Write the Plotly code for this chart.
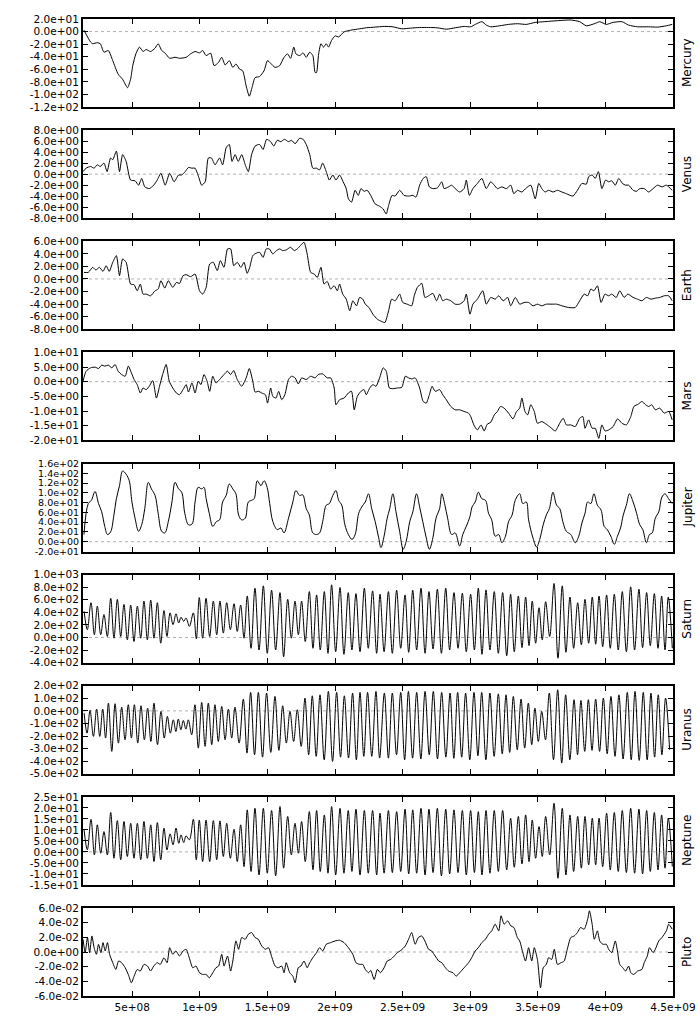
import plotly.graph_objects as go
from plotly.subplots import make_subplots

# ---------------- data (time in units of 1e9) ----------------
planets = ["Mercury", "Venus", "Earth", "Mars", "Jupiter", "Saturn", "Uranus", "Neptune", "Pluto"]

mercury_t = [0.143,0.192,0.208,0.241,0.264,0.291,0.323,0.356,0.396,0.429,0.465,0.488,0.504,0.527,0.554,0.580,0.603,0.636,0.669,0.692,
             0.718,0.744,0.777,0.817,0.850,0.899,0.932,0.965,0.998,1.021,1.047,1.080,1.106,1.139,1.162,1.188,1.218,1.244,1.267,1.294,
             1.317,1.343,1.366,1.386,1.409,1.442,1.475,1.501,1.524,1.557,1.590,1.623,1.649,1.672,1.695,1.711,1.738,1.764,1.787,1.813,
             1.836,1.853,1.863,1.879,1.896,1.915,1.935,1.952,1.975,2.001,2.027,2.067,2.116,2.165,2.231,2.297,2.363,2.428,2.494,2.560,
             2.626,2.692,2.757,2.823,2.889,2.955,3.004,3.037,3.086,3.119,3.152,3.218,3.284,3.349,3.415,3.481,3.547,3.613,3.678,3.744,
             3.810,3.859,3.925,3.958,4.007,4.057,4.122,4.172,4.237,4.320,4.385,4.451,4.494]
mercury_v = [2.2,-16.6,-19.3,-17.7,-19.3,-32.8,-30.1,-46.2,-67.8,-75.9,-89.3,-75.9,-54.3,-35.5,-24.7,-31.7,-28.5,-31.7,-26.3,-19.3,
             -30.1,-34.4,-42.5,-40.9,-42.5,-40.9,-35.5,-31.7,-33.9,-30.1,-38.2,-34.4,-54.3,-48.9,-40.9,-53.2,-46.2,-57.0,-51.6,-59.7,
             -62.4,-86.6,-102.8,-89.3,-73.2,-71.5,-62.4,-46.2,-50.5,-57.0,-54.3,-40.9,-35.5,-42.5,-24.7,-35.5,-38.2,-33.9,-40.9,-32.8,
             -38.2,-65.1,-65.1,-35.5,-19.3,-24.7,-19.3,-24.7,-13.9,-6.9,-8.5,-0.5,2.2,3.8,6.0,7.1,8.2,7.6,4.4,5.5,
             6.5,6.5,6.0,3.8,6.0,8.2,7.6,11.4,15.7,10.3,7.6,9.2,11.4,12.5,11.4,14.6,15.7,16.8,17.8,18.4,
             15.7,9.2,13.0,15.7,11.4,14.6,15.7,10.3,7.6,7.6,7.1,9.2,11.4]

venus_t = [0.136,0.159,0.192,0.218,0.241,0.264,0.291,0.314,0.340,0.356,0.383,0.406,0.429,0.455,0.488,0.521,0.547,0.570,0.593,0.626,
           0.659,0.685,0.712,0.744,0.777,0.810,0.843,0.866,0.892,0.916,0.942,0.965,0.991,1.014,1.040,1.063,1.086,1.113,1.146,1.169,
           1.195,1.218,1.238,1.261,1.284,1.310,1.336,1.359,1.383,1.409,1.442,1.468,1.494,1.524,1.547,1.573,1.600,1.626,1.656,1.679,
           1.705,1.738,1.764,1.787,1.813,1.836,1.863,1.886,1.909,1.935,1.958,1.984,2.007,2.034,2.060,2.083,2.099,2.122,2.149,2.172,
           2.192,2.215,2.238,2.264,2.297,2.330,2.356,2.379,2.396,2.422,2.445,2.478,2.511,2.544,2.576,2.599,2.626,2.652,2.675,2.698,
           2.724,2.757,2.790,2.807,2.840,2.863,2.889,2.922,2.955,2.971,2.994,3.020,3.053,3.086,3.119,3.152,3.178,3.201,3.234,3.267,
           3.300,3.323,3.349,3.382,3.415,3.448,3.481,3.507,3.530,3.553,3.580,3.613,3.645,3.678,3.711,3.760,3.793,3.826,3.859,3.876,
           3.902,3.925,3.948,3.974,4.001,4.024,4.047,4.073,4.099,4.126,4.149,4.172,4.205,4.231,4.254,4.287,4.320,4.353,4.385,4.419,
           4.451,4.494]
venus_v = [0.46,1.08,1.39,1.08,1.70,1.39,2.01,0.46,2.93,2.62,4.17,0.46,3.55,2.31,-1.08,-1.21,-2.01,-0.78,-2.32,-2.63,
           -2.01,-1.08,0.15,-2.01,0.15,-1.39,-0.16,-0.16,0.46,1.20,1.08,1.08,-0.47,-2.01,-1.39,2.93,2.93,1.70,2.93,1.70,
           4.79,5.40,2.31,3.55,2.31,3.55,1.70,0.46,3.55,5.10,5.40,4.48,6.33,5.90,5.10,6.15,5.90,6.33,5.90,6.15,
           5.53,6.52,6.33,5.40,3.55,1.08,1.08,0.77,2.01,0.46,-1.08,-0.16,-1.08,-0.16,-1.39,-2.63,-4.48,-5.10,-2.94,-3.87,
           -2.63,-3.12,-2.94,-3.87,-5.41,-5.84,-6.34,-7.26,-5.72,-3.87,-3.99,-2.94,-3.87,-3.99,-3.87,-4.17,-2.01,-0.78,-0.47,-2.32,
           -2.63,-2.51,-1.39,-2.63,-2.32,-2.01,-2.63,-3.25,-2.63,-1.08,-3.87,-2.63,-1.70,-0.78,-2.63,-1.39,-2.01,-2.63,-2.32,-2.63,
           -2.01,-3.56,-2.94,-3.25,-2.51,-2.01,-4.48,-1.70,-2.63,-3.25,-2.94,-3.25,-2.94,-3.25,-3.56,-3.99,-2.94,-1.70,-1.83,-0.47,
           -0.16,-0.78,0.46,-2.63,-1.08,-1.39,-1.21,-2.01,-0.78,-1.70,-2.01,-2.01,-2.94,-3.12,-2.63,-2.63,-3.25,-2.63,-2.01,-2.32,
           -2.01,-2.94]

earth_t = [0.143,0.175,0.208,0.231,0.258,0.284,0.307,0.330,0.356,0.383,0.406,0.429,0.455,0.488,0.514,0.537,0.560,0.580,0.603,0.636,
           0.669,0.692,0.712,0.741,0.767,0.800,0.827,0.850,0.876,0.899,0.932,0.965,0.998,1.021,1.047,1.073,1.100,1.129,1.152,1.179,
           1.205,1.228,1.251,1.277,1.304,1.327,1.350,1.369,1.392,1.415,1.442,1.468,1.491,1.514,1.540,1.567,1.590,1.613,1.639,1.672,
           1.698,1.721,1.744,1.771,1.794,1.820,1.846,1.869,1.896,1.919,1.942,1.968,1.994,2.017,2.034,2.057,2.083,2.109,2.132,2.159,
           2.182,2.205,2.224,2.251,2.280,2.313,2.346,2.369,2.396,2.419,2.445,2.478,2.501,2.534,2.567,2.586,2.609,2.642,2.665,2.692,
           2.724,2.751,2.774,2.797,2.823,2.856,2.889,2.922,2.955,2.971,2.998,3.020,3.053,3.093,3.119,3.152,3.185,3.211,3.244,3.277,
           3.300,3.333,3.366,3.399,3.432,3.464,3.497,3.530,3.563,3.606,3.639,3.678,3.728,3.777,3.810,3.843,3.869,3.892,3.915,3.941,
           3.968,3.997,4.024,4.047,4.080,4.106,4.139,4.165,4.205,4.237,4.270,4.303,4.336,4.369,4.402,4.435,4.468,4.494]
earth_v = [1.05,1.05,1.85,1.42,1.85,1.21,2.11,1.21,2.65,3.71,0.52,3.18,2.65,-0.81,-0.92,-1.88,-0.81,-2.41,-2.41,-2.68,
           -1.88,-1.61,-0.28,-1.45,-0.28,-1.35,-0.55,-0.71,0.52,0.68,0.36,0.78,-1.88,-2.41,-1.35,2.38,2.65,1.32,2.91,1.85,
           4.78,4.78,2.11,2.65,1.85,2.65,0.89,1.85,3.71,4.08,4.24,3.44,4.78,4.78,3.98,4.51,4.78,4.51,4.62,5.04,
           4.51,4.78,5.31,5.84,3.98,1.05,0.78,0.25,1.85,-0.81,-0.39,-1.61,-1.08,-1.88,-0.81,-2.41,-3.21,-5.07,-3.47,-4.27,
           -2.94,-3.21,-4.01,-4.54,-5.60,-6.40,-6.78,-6.94,-5.07,-3.21,-3.47,-2.41,-3.74,-4.01,-4.27,-2.68,-1.35,-0.71,-2.94,-2.68,
           -2.30,-3.47,-2.41,-3.47,-3.21,-3.47,-4.01,-4.01,-3.47,-2.41,-5.60,-4.01,-3.21,-1.88,-4.01,-2.94,-3.21,-2.68,-3.47,-2.94,
           -4.27,-2.94,-4.01,-3.74,-3.74,-4.27,-4.01,-4.27,-4.01,-4.01,-4.01,-4.27,-4.54,-4.54,-3.47,-2.41,-2.68,-1.61,-1.88,-1.08,
           -3.74,-2.41,-2.68,-2.41,-2.94,-1.88,-2.94,-2.41,-2.94,-3.21,-3.47,-2.94,-3.21,-3.05,-2.94,-2.68,-2.68,-3.47]

mars_t = [0.136,0.159,0.192,0.225,0.251,0.274,0.297,0.323,0.350,0.373,0.396,0.422,0.448,0.471,0.494,0.514,0.537,0.560,0.580,0.603,
          0.626,0.652,0.679,0.702,0.725,0.751,0.774,0.800,0.827,0.850,0.876,0.899,0.916,0.942,0.965,0.988,1.008,1.031,1.054,1.073,
          1.096,1.119,1.146,1.179,1.205,1.228,1.251,1.277,1.310,1.343,1.366,1.392,1.409,1.435,1.458,1.485,1.501,1.524,1.540,1.563,
          1.583,1.606,1.629,1.656,1.679,1.705,1.728,1.754,1.787,1.820,1.853,1.876,1.909,1.942,1.968,1.994,2.007,2.034,2.067,2.099,
          2.122,2.142,2.165,2.192,2.215,2.231,2.257,2.280,2.303,2.330,2.356,2.379,2.402,2.428,2.461,2.494,2.520,2.544,2.567,2.593,
          2.626,2.652,2.675,2.698,2.718,2.741,2.774,2.797,2.823,2.856,2.889,2.922,2.955,2.988,3.004,3.027,3.053,3.080,3.103,3.126,
          3.152,3.178,3.201,3.224,3.251,3.284,3.316,3.343,3.366,3.382,3.405,3.425,3.448,3.474,3.497,3.530,3.563,3.596,3.629,3.662,
          3.688,3.711,3.744,3.777,3.810,3.833,3.849,3.876,3.902,3.925,3.951,3.974,3.997,4.024,4.057,4.090,4.122,4.155,4.188,4.211,
          4.244,4.270,4.297,4.320,4.343,4.369,4.402,4.435,4.468,4.494]
mars_v = [0.15,3.59,4.73,4.96,4.50,5.65,5.31,5.65,4.73,5.88,3.59,2.44,1.87,5.31,3.02,0.73,-0.99,-3.85,-2.14,-2.71,
          -1.56,0.38,-5.57,-1.56,2.44,5.88,0.15,-2.14,-3.85,-4.43,-2.71,-0.99,-3.51,-0.42,-3.85,0.15,-0.99,2.44,0.15,-3.28,
          1.87,-0.42,0.73,2.44,3.59,2.44,3.82,0.73,-1.56,1.30,4.50,0.15,-3.51,-3.28,-3.85,-4.43,-7.29,-2.14,-5.00,-5.57,
          -3.28,-6.14,-4.43,0.73,1.87,1.30,-0.76,1.30,0.73,1.87,1.30,2.44,2.67,1.30,1.30,-2.14,-7.86,-6.14,-5.57,-3.85,
          -3.28,-9.58,-5.00,-3.28,-2.71,-4.43,-2.14,-0.99,-1.56,1.30,4.73,3.59,-2.14,-2.37,-2.14,-1.91,1.87,1.30,0.95,1.30,
          -2.14,-6.72,-7.29,-4.43,-1.56,-3.28,-2.71,-4.43,-6.14,-8.43,-9.58,-9.58,-10.15,-10.72,-11.87,-14.73,-16.45,-14.73,-16.79,-14.50,
          -13.82,-11.30,-10.15,-8.43,-9.01,-10.72,-12.67,-10.15,-9.01,-5.57,-10.15,-11.30,-7.86,-10.15,-14.16,-13.59,-14.50,-15.65,-16.79,-14.16,
          -12.44,-14.73,-14.73,-15.30,-12.44,-11.87,-15.88,-13.01,-15.88,-15.88,-19.31,-14.73,-16.79,-16.45,-15.30,-12.67,-14.16,-14.73,-11.87,-8.43,
          -7.63,-6.72,-7.86,-8.43,-7.86,-9.58,-9.01,-10.72,-10.15,-13.01]

jupiter_t = [0.143,0.175,0.198,0.225,0.251,0.274,0.297,0.317,0.340,0.363,0.383,0.406,0.429,0.455,0.478,0.498,0.521,0.547,0.570,0.593,
             0.619,0.642,0.669,0.692,0.718,0.741,0.767,0.794,0.817,0.843,0.866,0.889,0.916,0.942,0.965,0.988,1.014,1.031,1.047,1.070,
             1.096,1.123,1.146,1.169,1.195,1.218,1.244,1.267,1.287,1.310,1.336,1.359,1.383,1.402,1.425,1.452,1.475,1.498,1.517,1.540,
             1.573,1.600,1.623,1.656,1.688,1.711,1.738,1.761,1.787,1.810,1.836,1.863,1.886,1.909,1.935,1.958,1.984,2.007,2.027,2.050,
             2.073,2.099,2.126,2.149,2.175,2.198,2.224,2.248,2.271,2.297,2.323,2.340,2.363,2.386,2.405,2.428,2.451,2.478,2.504,2.527,
             2.553,2.576,2.603,2.626,2.649,2.675,2.698,2.724,2.747,2.774,2.790,2.813,2.833,2.863,2.889,2.922,2.945,2.971,2.998,3.014,
             3.037,3.060,3.086,3.113,3.136,3.159,3.185,3.211,3.234,3.261,3.284,3.310,3.333,3.366,3.389,3.415,3.432,3.464,3.491,3.514,
             3.540,3.563,3.586,3.612,3.639,3.662,3.685,3.711,3.744,3.777,3.803,3.826,3.849,3.869,3.892,3.915,3.941,3.968,3.991,4.014,
             4.040,4.066,4.089,4.112,4.132,4.155,4.178,4.205,4.231,4.254,4.277,4.303,4.326,4.346,4.369,4.395,4.418,4.441,4.467,4.494]
jupiter_v = [14.7,78,84.7,102.7,78,61.3,31.3,14.7,20,51.3,88,114.7,144.7,138,124.7,81.3,48,21.3,34.7,68,
             121.3,108,94.7,58,21.3,18,41.3,81.3,121.3,108,101.3,58,34.7,36,81.3,111.3,108,111.3,88,58,
             31.3,41.3,44.7,81.3,94.7,118,108,98,54.7,44.7,48,81.3,84.7,88,124.7,114.7,124.7,111.3,78,41.3,
             24.7,28,18,48,81.3,104.7,94.7,96,68,54.7,18,14.7,18,41.3,74.7,78,94.7,104.7,84.7,74.7,
             34.7,14.7,4.7,14.7,58,71.3,81.3,98,68,41.3,8,-12,11.3,48,68,98,61.3,21.3,-15.3,1.3,
             41.3,61.3,98,71.3,41.3,8,-15.3,8,48,68,98,74.7,48,14.7,18,-8.7,14.7,31.3,51.3,71.3,
             81.3,101.3,88,84.7,58,44.7,11.3,14.7,-2,11.3,41.3,54.7,84.7,98,78,81.3,44.7,8,-10.7,4.7,
             34.7,54.7,68,101.3,74.7,68,41.3,21.3,14.7,-2,11.3,38,58,81.3,78,98,74.7,64.7,31.3,24.7,
             11.3,-5.3,11.3,28,54.7,74.7,98,81.3,58,34.7,24.7,-2,14.7,18,48,61.3,91.3,98,88,78]

# Saturn / Neptune: alternating crest / trough readings
saturn_t = [0.144,0.168,0.195,0.220,0.242,0.267,0.291,0.316,0.341,0.365,0.390,0.415,0.439,0.464,0.489,0.513,0.538,0.563,0.587,0.612,
            0.637,0.661,0.686,0.711,0.735,0.757,0.780,0.802,0.824,0.844,0.861,0.881,0.898,0.923,0.952,0.974,0.996,1.021,1.046,1.073,
            1.100,1.125,1.149,1.174,1.199,1.226,1.253,1.277,1.302,1.327,1.351,1.379,1.408,1.438,1.470,1.499,1.531,1.561,1.593,1.620,
            1.650,1.677,1.704,1.729,1.753,1.780,1.810,1.837,1.864,1.891,1.921,1.948,1.975,2.005,2.037,2.066,2.098,2.125,2.155,2.185,
            2.217,2.246,2.278,2.308,
            2.333,2.363,2.395,2.424,2.456,2.486,2.518,2.545,2.575,2.604,2.636,2.666,2.695,2.725,2.757,2.787,2.819,2.848,2.880,2.910,
            2.942,2.971,3.003,3.031,3.060,3.087,3.117,3.146,3.178,3.208,3.240,3.270,3.299,3.326,3.356,3.383,3.410,3.435,3.459,3.484,
            3.509,3.533,3.558,3.588,3.620,3.649,3.681,3.708,3.738,3.765,3.795,3.822,3.849,3.876,3.903,3.928,3.953,3.980,4.009,4.036,
            4.066,4.095,4.125,4.155,4.187,4.216,4.248,4.275,4.305,4.332,4.362,4.389,4.416,4.441,4.465,4.495]
saturn_v = [419,124,553,43,499,43,365,16,623,-11,607,16,526,-38,516,-64,499,-11,580,-38,
            596,-11,553,-91,430,16,392,204,376,231,322,258,311,177,392,-21,634,-11,623,16,
            580,43,580,70,553,124,537,97,516,-11,661,-172,784,-199,822,-252,752,-199,714,-306,
            607,-11,580,43,580,-64,730,-172,677,-199,730,-252,838,-226,795,-269,714,-199,698,-226,
            784,-172,741,-252,
            687,-226,730,-252,752,-172,677,-236,752,-199,784,-252,730,-183,768,-252,784,-199,714,-172,
            703,-226,687,-199,784,-269,757,-199,730,-252,714,-290,687,-226,660,-161,644,-129,580,-91,
            473,-38,569,16,859,-330,822,-236,644,-172,553,-118,607,-91,644,-107,660,-145,677,-172,
            687,-199,730,-226,806,-199,768,-161,714,-129,698,-172,660,-199,644,-172]

uranus_t = [0.144,0.166,0.188,0.213,0.237,0.260,0.282,0.303,0.324,0.349,0.373,0.398,0.422,0.447,0.471,0.494,0.516,0.541,0.565,0.590,
            0.614,0.638,0.661,0.687,0.713,0.737,0.760,0.782,0.804,0.823,0.841,0.860,0.878,0.897,0.915,0.940,0.964,0.989,1.014,1.039,
            1.063,1.088,1.112,1.137,1.162,1.187,1.211,1.236,1.260,1.291,1.322,1.349,1.376,1.405,1.433,1.464,1.494,1.525,1.556,1.585,
            1.613,1.640,1.667,1.694,1.721,1.750,1.778,1.805,1.832,1.861,1.889,1.920,1.951,1.982,2.012,2.041,2.069,2.100,2.130,2.158,
            2.185,2.213,2.241,2.272,2.303,2.330,
            2.365,2.395,2.424,2.455,2.486,2.515,2.543,2.574,2.604,2.635,2.666,2.697,2.727,2.758,2.789,2.820,2.851,2.879,2.907,2.937,
            2.966,2.997,3.028,3.057,3.085,3.116,3.146,3.177,3.208,3.237,3.265,3.292,3.319,3.348,3.376,3.403,3.430,3.455,3.479,3.504,
            3.529,3.557,3.585,3.616,3.647,3.677,3.706,3.737,3.768,3.794,3.819,3.847,3.874,3.901,3.928,3.957,3.985,4.013,4.041,4.071,
            4.100,4.131,4.162,4.191,4.219,4.250,4.280,4.309,4.337,4.364,4.391,4.418,4.445,4.475]
uranus_v = [-18,-177,4,-203,14,-203,14,-216,62,-322,57,-256,30,-230,49,-216,49,-256,41,-230,
            22,-243,62,-269,-4,-216,-44,-177,-71,-164,-65,-150,-76,-145,-71,-190,49,-296,67,-282,
            62,-269,49,-243,36,-230,14,-216,30,-256,94,-336,147,-349,147,-368,142,-330,115,-314,
            41,-256,-4,-243,9,-282,102,-349,120,-362,128,-389,155,-402,147,-368,120,-375,142,-389,
            147,-362,147,-362,155,-375,
            142,-376,142,-349,147,-389,155,-376,147,-383,155,-349,155,-383,147,-368,142,-378,147,-368,
            142,-389,147,-357,147,-389,142,-362,136,-341,128,-330,115,-309,94,-296,62,-269,22,-243,
            -4,-230,142,-389,168,-415,128,-389,89,-349,83,-322,89,-314,94,-322,102,-341,115,-362,
            128,-383,147,-389,155,-394,147,-389,142,-368,128,-349,102,-309]

neptune_t = list(saturn_t)
neptune_v = [10.0,0.9,14.8,-1.4,12.3,-0.6,9.2,-1.4,17.9,-2.9,14.2,-3.6,13.8,-2.1,13.0,-2.9,13.0,-3.6,13.8,-2.9,
             12.3,-4.4,13.3,-3.6,10.8,0.9,8.2,3.2,10.8,3.9,7.7,4.2,7.3,5.5,14.8,-3.6,14.5,-4.4,14.5,-4.4,
             14.2,-3.6,14.1,-2.1,13.0,-2.9,10.3,-4.4,12.3,-6.7,19.1,-8.9,19.8,-10.5,19.8,-9.7,18.8,-10.9,20.6,-7.4,
             16.1,-1.4,13.0,-0.6,13.8,-4.4,18.3,-8.1,18.8,-8.9,16.8,-9.7,20.6,-10.5,19.8,-9.7,18.8,-8.9,19.4,-10.5,
             18.8,-9.7,18.8,-10.5,
             17.6,-9.7,18.8,-9.4,18.3,-8.9,19.4,-10.0,19.1,-9.7,19.8,-10.5,19.4,-9.4,19.8,-10.9,19.4,-10.0,19.1,-9.4,
             18.8,-10.5,18.8,-9.4,18.3,-10.5,18.8,-9.7,18.8,-8.9,18.8,-8.2,15.3,-7.0,16.1,-5.5,16.8,-4.4,14.5,-2.9,
             11.5,-2.1,16.1,-1.4,22.1,-12.0,19.8,-10.5,16.8,-8.9,16.1,-7.4,16.1,-5.9,15.3,-5.9,15.3,-6.7,17.6,-8.2,
             17.9,-8.9,18.8,-9.4,19.8,-9.7,19.4,-10.0,18.8,-8.9,17.9,-8.2,16.8,-7.4,15.3,-6.7]

pluto_t = [0.136,0.152,0.169,0.185,0.202,0.218,0.235,0.251,0.268,0.284,0.300,0.317,0.333,0.356,0.379,0.399,0.422,0.448,0.471,0.494,
           0.514,0.537,0.560,0.587,0.613,0.636,0.659,0.685,0.708,0.735,0.758,0.777,0.800,0.823,0.850,0.876,0.899,0.922,0.948,0.971,
           0.998,1.021,1.047,1.070,1.096,1.119,1.139,1.162,1.179,1.205,1.228,1.244,1.267,1.287,1.310,1.336,1.359,1.383,1.409,1.432,
           1.458,1.485,1.508,1.534,1.557,1.580,1.606,1.623,1.639,1.665,1.688,1.705,1.728,1.748,1.771,1.794,1.813,1.836,1.863,1.886,
           1.909,1.935,1.968,2.001,2.034,2.067,2.099,2.132,2.155,2.182,2.205,2.224,2.248,2.264,2.290,2.313,2.336,2.363,2.386,2.412,
           2.438,2.461,2.488,2.520,2.544,2.567,2.593,2.616,2.642,2.665,2.692,2.715,2.741,2.767,2.790,2.817,2.840,2.873,2.896,2.922,
           2.955,2.988,3.011,3.037,3.060,3.086,3.113,3.136,3.159,3.185,3.211,3.228,3.251,3.277,3.300,3.323,3.349,3.366,3.389,3.409,
           3.432,3.455,3.474,3.497,3.520,3.540,3.563,3.580,3.603,3.622,3.645,3.672,3.695,3.718,3.744,3.770,3.793,3.816,3.843,3.869,
           3.882,3.902,3.918,3.941,3.958,3.981,4.007,4.024,4.047,4.073,4.089,4.106,4.129,4.149,4.172,4.188,4.211,4.237,4.270,4.287,
           4.310,4.326,4.353,4.369,4.395,4.418,4.451,4.468,4.494]
pluto_v = [0.0174,-0.0009,0.0197,-0.0009,0.0219,0.0059,-0.0032,0.0105,-0.0009,0.0128,0.0014,0.0128,-0.0032,-0.0146,-0.0238,-0.0123,-0.0146,-0.0215,-0.0306,-0.0420,
           -0.0329,-0.0238,-0.0260,-0.0169,-0.0192,-0.0260,-0.0192,-0.0146,-0.0169,-0.0078,-0.0146,0.0059,-0.0032,0.0014,-0.0055,0.0014,0.0037,-0.0078,-0.0215,-0.0192,
           -0.0283,-0.0306,-0.0306,-0.0352,-0.0283,-0.0215,-0.0192,-0.0032,-0.0192,-0.0055,-0.0260,-0.0123,0.0151,0.0037,0.0197,0.0174,0.0242,0.0265,0.0197,0.0174,
           0.0082,0.0037,0.0059,-0.0078,-0.0192,-0.0215,-0.0192,-0.0283,-0.0146,-0.0283,-0.0329,-0.0420,-0.0215,-0.0192,-0.0123,-0.0215,-0.0146,-0.0078,-0.0009,0.0059,
           0.0014,0.0105,0.0128,0.0151,0.0160,0.0128,0.0059,-0.0032,-0.0146,-0.0169,-0.0169,-0.0238,-0.0283,-0.0251,-0.0375,-0.0238,-0.0283,-0.0215,-0.0123,-0.0101,
           -0.0055,-0.0009,0.0023,0.0082,0.0174,0.0265,0.0105,0.0197,0.0219,0.0151,0.0037,0.0014,-0.0055,-0.0123,-0.0146,-0.0215,-0.0260,-0.0283,-0.0329,-0.0283,
           -0.0215,-0.0146,-0.0078,0.0014,0.0059,0.0128,0.0174,0.0242,0.0288,0.0379,0.0288,0.0494,0.0379,0.0425,0.0357,0.0334,0.0197,0.0151,-0.0009,-0.0123,
           0.0059,-0.0123,0.0059,-0.0101,-0.0489,-0.0215,-0.0169,-0.0078,-0.0101,0.0037,-0.0169,-0.0146,-0.0123,0.0037,0.0197,0.0219,0.0265,0.0334,0.0311,0.0448,
           0.0562,0.0379,0.0174,0.0288,0.0151,0.0105,0.0105,0.0037,-0.0009,0.0151,0.0014,-0.0169,-0.0215,-0.0260,-0.0192,-0.0283,-0.0306,-0.0260,-0.0238,-0.0146,
           -0.0055,0.0059,-0.0009,0.0037,0.0151,0.0197,0.0288,0.0379,0.0311]

y_ranges = [(-120, 20), (-8, 8), (-8, 6), (-20, 10), (-20, 160), (-400, 1000), (-500, 200), (-15, 25), (-0.06, 0.06)]
y_steps = [20, 2, 2, 5, 20, 200, 100, 5, 0.02]
x_tick_vals = [0.5, 1.0, 1.5, 2.0, 2.5, 3.0, 3.5, 4.0, 4.5]
x_tick_text = ["5e+08", "1e+09", "1.5e+09", "2e+09", "2.5e+09", "3e+09", "3.5e+09", "4e+09", "4.5e+09"]
x_range = (0.136, 4.5)

series = [(mercury_t, mercury_v), (venus_t, venus_v), (earth_t, earth_v), (mars_t, mars_v),
          (jupiter_t, jupiter_v), (saturn_t, saturn_v), (uranus_t, uranus_v),
          (neptune_t, neptune_v), (pluto_t, pluto_v)]
oscillating = {"Saturn", "Uranus", "Neptune", "Jupiter"}

# ---------------- figure ----------------
W, H = 700, 1021
M_L, M_R, M_T, M_B = 83, 27, 19, 25
PANEL_H, PITCH = 88, 111.125
plot_h = H - M_T - M_B
FAMILY = "DejaVu Sans, Liberation Sans, sans-serif"

fig = make_subplots(rows=9, cols=1)
LABELFONT = dict(family=FAMILY, size=12, color="black")

for i, (name, (t, v)) in enumerate(zip(planets, series)):
    n = min(len(t), len(v))
    xs = [a * 1e9 for a in t[:n]]
    ys = v[:n]
    fig.add_trace(go.Scatter(
        x=xs, y=ys, mode="lines",
        line=dict(color="black", width=1, shape="spline",
                  smoothing=1.0 if name in oscillating else 0.6),
        showlegend=False, hoverinfo="skip"), row=i + 1, col=1)

    top_px = M_T + i * PITCH
    bot_px = top_px + PANEL_H
    d0 = (H - M_B - bot_px) / plot_h
    d1 = (H - M_B - top_px) / plot_h
    lo, hi = y_ranges[i]
    step = y_steps[i]
    k = round((hi - lo) / step)
    tv = [round(lo + j * step, 6) for j in range(k + 1)]
    tt = [f"{a:.1e}" for a in tv]
    # ten labels in one panel need a slightly smaller face to stay apart
    ysize = 9.5 if k >= 9 else 10.5
    yname = "yaxis" if i == 0 else f"yaxis{i + 1}"
    xname = "xaxis" if i == 0 else f"xaxis{i + 1}"
    fig.layout[yname].update(
        domain=[d0, d1], range=[lo, hi], tickvals=tv, ticktext=tt,
        ticks="inside", ticklen=5, tickwidth=1, tickcolor="black",
        showline=True, linewidth=2, linecolor="black", mirror="ticks",
        showgrid=False, zeroline=False,
        tickfont=dict(family=FAMILY, size=ysize, color="black"), automargin=False)
    fig.layout[xname].update(
        range=[x_range[0] * 1e9, x_range[1] * 1e9],
        tickvals=[a * 1e9 for a in x_tick_vals], ticktext=x_tick_text,
        showticklabels=(i == 8),
        ticks="inside", ticklen=5, tickwidth=1, tickcolor="black",
        showline=True, linewidth=2, linecolor="black", mirror="ticks",
        showgrid=False, zeroline=False,
        tickfont=dict(family=FAMILY, size=10.5, color="black"), automargin=False)
    xref = "x" if i == 0 else f"x{i + 1}"
    yref = "y" if i == 0 else f"y{i + 1}"
    fig.add_shape(type="line", xref=f"{xref} domain", yref=yref, x0=0, x1=1, y0=0, y1=0,
                  line=dict(color="#b0b0b0", width=1, dash="dot"), layer="below")
    fig.add_annotation(text=name, xref="paper", yref="paper", x=1, y=(d0 + d1) / 2,
                       xanchor="left", yanchor="middle", xshift=5, textangle=-90,
                       showarrow=False, font=LABELFONT)

fig.update_layout(width=W, height=H, margin=dict(l=M_L, r=M_R, t=M_T, b=M_B),
                  paper_bgcolor="white", plot_bgcolor="white")
fig.write_html("out.html", config={"displayModeBar": False},
               post_script="document.body.style.margin='0px';")
